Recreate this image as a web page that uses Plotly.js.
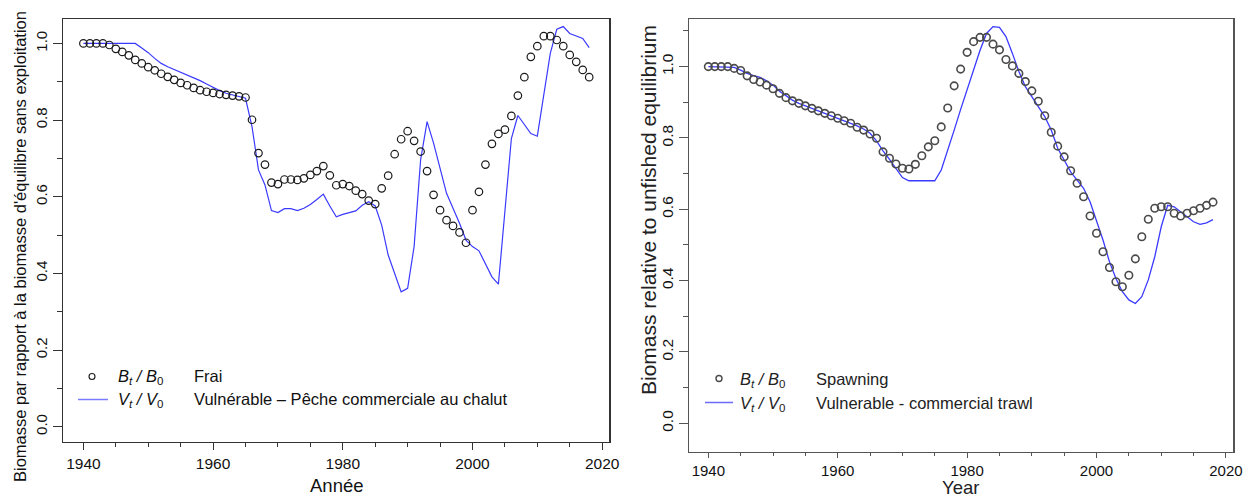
<!DOCTYPE html>
<html>
<head>
<meta charset="utf-8">
<script src="https://cdn.plot.ly/plotly-3.0.1.min.js"></script>
<style>html,body{margin:0;padding:0;background:#fff}#chart{width:1255px;height:497px}</style>
</head>
<body>
<div id="chart"></div>
<script>
// ---- data ----
const years = [1940,1941,1942,1943,1944,1945,1946,1947,1948,1949,
  1950,1951,1952,1953,1954,1955,1956,1957,1958,1959,
  1960,1961,1962,1963,1964,1965,1966,1967,1968,1969,
  1970,1971,1972,1973,1974,1975,1976,1977,1978,1979,
  1980,1981,1982,1983,1984,1985,1986,1987,1988,1989,
  1990,1991,1992,1993,1994,1995,1996,1997,1998,1999,
  2000,2001,2002,2003,2004,2005,2006,2007,2008,2009,
  2010,2011,2012,2013,2014,2015,2016,2017,2018];

// Left panel (French): spawning biomass B_t/B_0 (circles)
const leftSpawning = [1.000,1.000,1.000,1.000,0.996,0.986,0.978,0.969,0.957,0.948,
  0.938,0.930,0.921,0.913,0.905,0.897,0.891,0.884,0.878,0.874,
  0.871,0.868,0.866,0.864,0.862,0.859,0.801,0.714,0.684,0.637,
  0.633,0.645,0.645,0.644,0.648,0.657,0.667,0.680,0.656,0.630,
  0.633,0.628,0.616,0.607,0.590,0.581,0.622,0.655,0.711,0.750,
  0.771,0.746,0.718,0.667,0.605,0.565,0.539,0.524,0.507,0.480,
  0.565,0.613,0.684,0.738,0.764,0.775,0.811,0.864,0.912,0.965,
  0.993,1.019,1.019,1.009,0.993,0.970,0.952,0.931,0.912];

// Left panel: vulnerable biomass V_t/V_0 (line)
const leftVulnerable = [1.000,1.000,1.000,1.000,1.000,1.000,1.000,1.000,1.000,0.988,
  0.976,0.961,0.948,0.939,0.932,0.925,0.918,0.911,0.903,0.894,
  0.885,0.877,0.870,0.865,0.862,0.857,0.783,0.670,0.631,0.564,
  0.559,0.569,0.569,0.564,0.570,0.580,0.593,0.607,0.576,0.548,
  0.554,0.558,0.563,0.578,0.587,0.576,0.526,0.448,0.400,0.352,
  0.361,0.470,0.696,0.796,0.740,0.678,0.609,0.570,0.531,0.487,
  0.470,0.459,0.426,0.391,0.372,0.565,0.752,0.812,0.790,0.765,
  0.758,0.866,0.974,1.037,1.044,1.026,1.019,1.013,0.989];

// Right panel (English): spawning biomass B_t/B_0 (circles)
const rightSpawning = [1.000,1.000,1.000,1.000,0.995,0.989,0.974,0.964,0.957,0.948,
  0.938,0.925,0.913,0.904,0.897,0.890,0.883,0.876,0.869,0.862,
  0.855,0.848,0.841,0.830,0.822,0.811,0.799,0.761,0.743,0.727,
  0.715,0.713,0.726,0.750,0.775,0.792,0.831,0.884,0.946,0.993,
  1.040,1.070,1.082,1.082,1.063,1.047,1.020,1.002,0.981,0.958,
  0.932,0.903,0.862,0.816,0.777,0.747,0.708,0.673,0.635,0.581,
  0.533,0.481,0.437,0.397,0.383,0.415,0.461,0.523,0.572,0.603,
  0.607,0.607,0.589,0.581,0.589,0.596,0.603,0.611,0.620];

// Right panel: vulnerable biomass V_t/V_0 (line)
const rightVulnerable = [1.000,1.000,1.000,1.000,0.998,0.990,0.981,0.975,0.970,0.960,
  0.948,0.931,0.918,0.906,0.897,0.890,0.884,0.878,0.871,0.863,
  0.857,0.850,0.843,0.834,0.825,0.813,0.792,0.764,0.740,0.715,
  0.689,0.680,0.680,0.680,0.680,0.680,0.710,0.763,0.822,0.880,
  0.934,0.990,1.046,1.093,1.112,1.110,1.084,1.037,0.986,0.944,
  0.916,0.888,0.860,0.822,0.771,0.738,0.705,0.682,0.659,0.621,
  0.570,0.514,0.453,0.406,0.369,0.346,0.336,0.355,0.402,0.467,
  0.551,0.611,0.607,0.593,0.579,0.565,0.558,0.562,0.571];

const xTickVals = [1940,1960,1980,2000,2020];
const xTickText = ["1940","1960","1980","2000","2020"];
const yTickVals = [0,0.2,0.4,0.6,0.8,1.0];
const yTickText = ["0.0","0.2","0.4","0.6","0.8","1.0"];

// ---- styling ----
const W = 1255, H = 497;
const px = v => v / W;
const py = v => 1 - v / H;
const FONT = "Liberation Sans, Arial, sans-serif";
const BLUE = "#3a3aff";

const traces = [
  {x: years, y: leftVulnerable, type: "scatter", mode: "lines", xaxis: "x", yaxis: "y",
   line: {color: BLUE, width: 1.2}, showlegend: false, hoverinfo: "skip"},
  {x: years, y: leftSpawning, type: "scatter", mode: "markers", xaxis: "x", yaxis: "y",
   marker: {symbol: "circle-open", size: 7.5, color: "#1a1a1a", line: {width: 1.2, color: "#1a1a1a"}},
   showlegend: false, hoverinfo: "skip"},
  {x: years, y: rightVulnerable, type: "scatter", mode: "lines", xaxis: "x2", yaxis: "y2",
   line: {color: BLUE, width: 1.3}, showlegend: false, hoverinfo: "skip"},
  {x: years, y: rightSpawning, type: "scatter", mode: "markers", xaxis: "x2", yaxis: "y2",
   marker: {symbol: "circle-open", size: 7.5, color: "#4a4a4a", line: {width: 1.6, color: "#4a4a4a"}},
   showlegend: false, hoverinfo: "skip"}
];

function xAxis(domain, range, anchor, lc, fs, tl, mtl) {
  return {domain: domain, range: range, anchor: anchor,
    tickmode: "array", tickvals: xTickVals, ticktext: xTickText,
    ticks: "outside", ticklen: tl, tickwidth: 1, tickcolor: lc,
    minor: {tickmode: "linear", tick0: 1940, dtick: 5, ticks: "outside", ticklen: mtl, tickwidth: 1, tickcolor: lc},
    showline: true, mirror: true, linecolor: lc, linewidth: 1.2,
    showgrid: false, zeroline: false, fixedrange: true,
    tickfont: {family: FONT, size: fs, color: "#111"}};
}
function yAxis(domain, range, anchor, lc, fs) {
  return {domain: domain, range: range, anchor: anchor,
    tickmode: "array", tickvals: yTickVals, ticktext: yTickText, tickangle: -90,
    ticks: "outside", ticklen: 9, tickwidth: 1, tickcolor: lc,
    minor: {tickmode: "linear", tick0: 0, dtick: 0.1, ticks: "outside", ticklen: 5, tickwidth: 1, tickcolor: lc},
    showline: true, mirror: true, linecolor: lc, linewidth: 1.2,
    showgrid: false, zeroline: false, fixedrange: true,
    tickfont: {family: FONT, size: fs, color: "#111"}};
}

const layout = {
  width: W, height: H,
  margin: {l: 0, r: 0, t: 0, b: 0},
  paper_bgcolor: "#fff", plot_bgcolor: "#fff",
  showlegend: false,
  xaxis: xAxis([px(63.3), px(609.3)], [1936.9, 2021.1], "y", "#333", 15.5, 7, 4),
  yaxis: yAxis([py(441.7), py(19.3)], [-0.039, 1.063], "x", "#333", 15),
  xaxis2: xAxis([px(689.3), px(1233.3)], [1937.06, 2021.14], "y2", "#555", 15, 5, 3),
  yaxis2: yAxis([py(451.7), py(19.3)], [-0.0796, 1.1326], "x2", "#555", 15.5),
  shapes: [
    // legend keys (left)
    {type: "circle", xref: "paper", yref: "paper", xsizemode: "pixel", ysizemode: "pixel",
     xanchor: px(92), yanchor: py(376.5), x0: -3, x1: 3, y0: -3, y1: 3,
     line: {color: "#1a1a1a", width: 1.1}},
    {type: "line", xref: "paper", yref: "paper", x0: px(78), x1: px(108), y0: py(399.5), y1: py(399.5),
     line: {color: "#7a7aff", width: 1.5}},
    // legend keys (right)
    {type: "circle", xref: "paper", yref: "paper", xsizemode: "pixel", ysizemode: "pixel",
     xanchor: px(719), yanchor: py(378.5), x0: -3, x1: 3, y0: -3, y1: 3,
     line: {color: "#4a4a4a", width: 1.4}},
    {type: "line", xref: "paper", yref: "paper", x0: px(705), x1: px(733), y0: py(402.5), y1: py(402.5),
     line: {color: "#6a6aff", width: 1.5}}
  ],
  annotations: [
    // axis titles
    {text: "Année", xref: "paper", yref: "paper", x: px(336.5), y: py(485), xanchor: "center", yanchor: "middle",
     showarrow: false, font: {family: FONT, size: 18.5, color: "#111"}},
    {text: "Biomasse par rapport à la biomasse d'équilibre sans exploitation", xref: "paper", yref: "paper",
     x: px(20), y: py(247), xanchor: "center", yanchor: "middle", textangle: -90,
     showarrow: false, font: {family: FONT, size: 16.5, color: "#111"}},
    {text: "Year", xref: "paper", yref: "paper", x: px(960), y: py(487), xanchor: "center", yanchor: "middle",
     showarrow: false, font: {family: FONT, size: 18.5, color: "#222"}},
    {text: "Biomass relative to unfished equilibrium", xref: "paper", yref: "paper",
     x: px(648), y: py(210), xanchor: "center", yanchor: "middle", textangle: -90,
     showarrow: false, font: {family: FONT, size: 21, color: "#222"}},
    // legend texts (left)
    {text: "<i>B</i><sub><i>t</i></sub> <i>/</i> <i>B</i><sub>0</sub>", xref: "paper", yref: "paper",
     x: px(116), y: py(377), xanchor: "left", yanchor: "middle", showarrow: false,
     font: {family: FONT, size: 16.5, color: "#111"}},
    {text: "Frai", xref: "paper", yref: "paper", x: px(192), y: py(375.5), xanchor: "left", yanchor: "middle",
     showarrow: false, font: {family: FONT, size: 16.5, color: "#111"}},
    {text: "<i>V</i><sub><i>t</i></sub> <i>/</i> <i>V</i><sub>0</sub>", xref: "paper", yref: "paper",
     x: px(116), y: py(400), xanchor: "left", yanchor: "middle", showarrow: false,
     font: {family: FONT, size: 16.5, color: "#111"}},
    {text: "Vulnérable – Pêche commerciale au chalut", xref: "paper", yref: "paper", x: px(192), y: py(398.5),
     xanchor: "left", yanchor: "middle", showarrow: false, font: {family: FONT, size: 16.5, color: "#111"}},
    // legend texts (right)
    {text: "<i>B</i><sub><i>t</i></sub> <i>/</i> <i>B</i><sub>0</sub>", xref: "paper", yref: "paper",
     x: px(738), y: py(380), xanchor: "left", yanchor: "middle", showarrow: false,
     font: {family: FONT, size: 16.5, color: "#222"}},
    {text: "Spawning", xref: "paper", yref: "paper", x: px(814), y: py(379), xanchor: "left", yanchor: "middle",
     showarrow: false, font: {family: FONT, size: 16.5, color: "#222"}},
    {text: "<i>V</i><sub><i>t</i></sub> <i>/</i> <i>V</i><sub>0</sub>", xref: "paper", yref: "paper",
     x: px(738), y: py(404), xanchor: "left", yanchor: "middle", showarrow: false,
     font: {family: FONT, size: 16.5, color: "#222"}},
    {text: "Vulnerable - commercial trawl", xref: "paper", yref: "paper", x: px(814), y: py(402.5),
     xanchor: "left", yanchor: "middle", showarrow: false, font: {family: FONT, size: 16.5, color: "#222"}}
  ]
};

Plotly.newPlot("chart", traces, layout, {displayModeBar: false, staticPlot: true});
</script>
</body>
</html>
